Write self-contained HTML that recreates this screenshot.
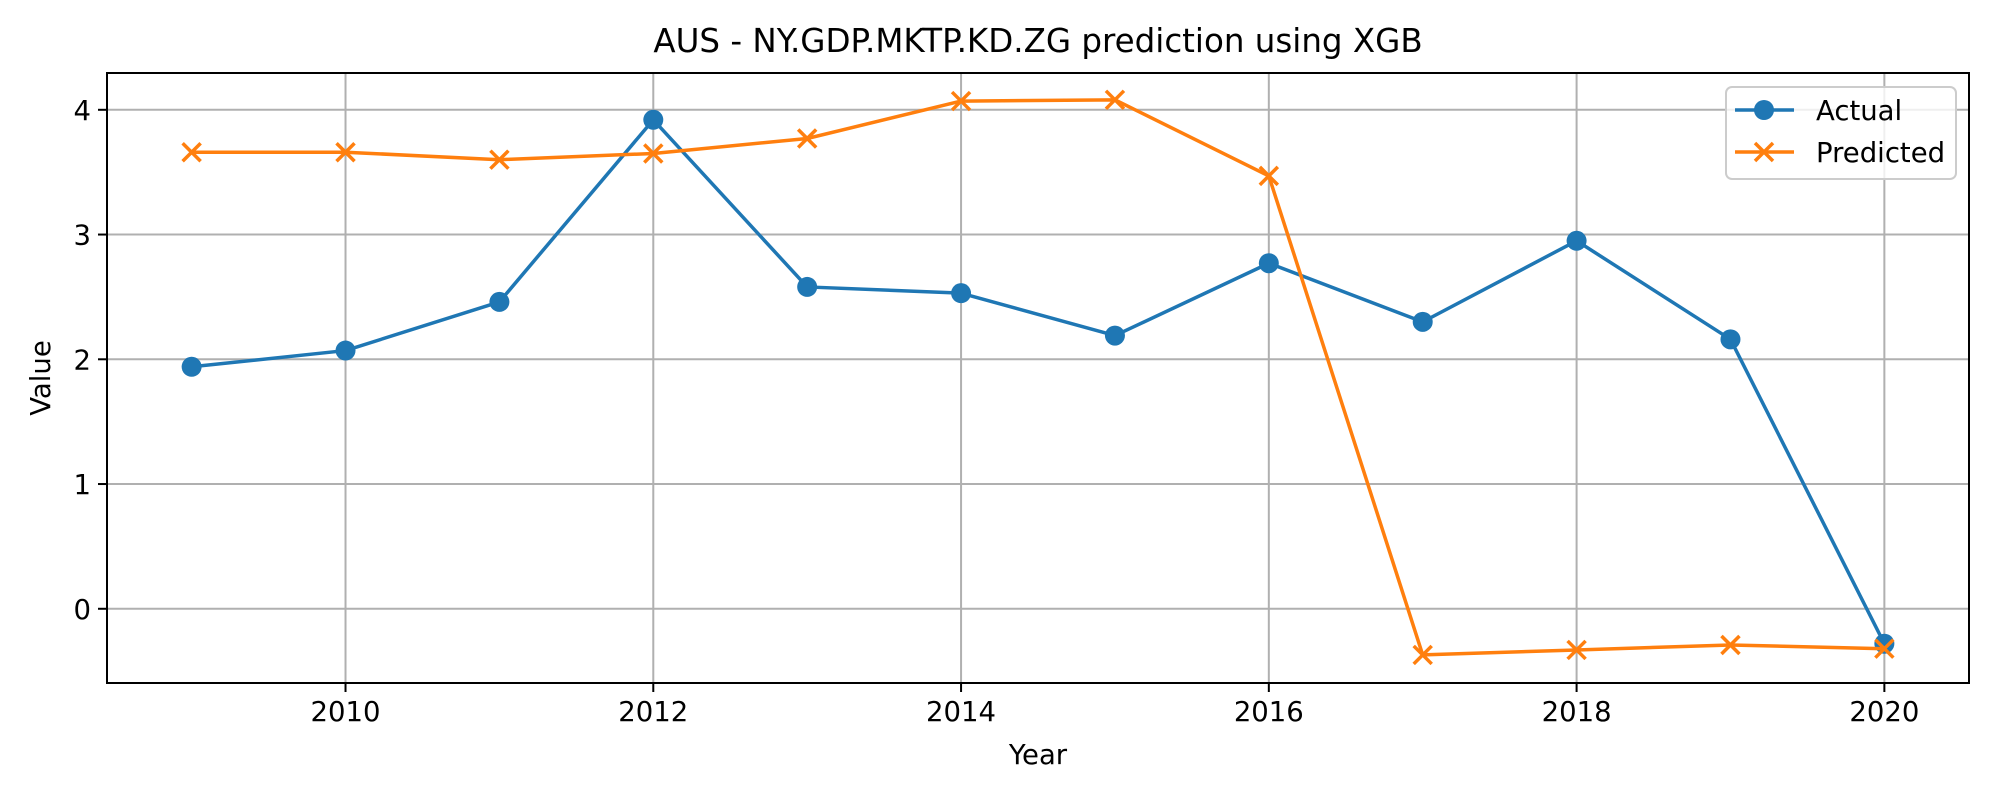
<!DOCTYPE html>
<html><head><meta charset="utf-8"><style>
html,body{margin:0;padding:0;background:#fff;}
svg{display:block;font-family:"DejaVu Sans","Liberation Sans",sans-serif;}
</style></head><body>
<svg id="chart" width="2000" height="800" viewBox="0 0 2000 800">
<rect width="2000" height="800" fill="#fff"/>
<text x="1038" y="52" font-size="32.5" text-anchor="middle">AUS - NY.GDP.MKTP.KD.ZG prediction using XGB</text>
<g id="grid"></g>
<g id="series"></g>
<rect x="107" y="73" width="1862" height="610" fill="none" stroke="#000" stroke-width="2"/>
<g id="ticks"></g>
<text x="1038" y="764" font-size="27.5" text-anchor="middle">Year</text>
<text transform="translate(50,378) rotate(-90)" font-size="27.5" text-anchor="middle">Value</text>
<g>
<rect x="1726" y="87" width="230" height="92" rx="6" fill="#fff" fill-opacity="0.8" stroke="#ccc" stroke-width="2"/>
<g>
<line x1="1735" y1="110" x2="1794" y2="110" stroke="#1f77b4" stroke-width="3.5"/>
<circle cx="1764" cy="110" r="10" fill="#1f77b4"/>
<text x="1816" y="120" font-size="27.5">Actual</text></g>
<g>
<line x1="1735" y1="152" x2="1794" y2="152" stroke="#ff7f0e" stroke-width="3.5"/>
<path d="M1755,143 l18,18 M1773,143 l-18,18" stroke="#ff7f0e" stroke-width="3.5"/>
<text x="1816" y="162" font-size="27.5">Predicted</text></g>
</g>
</svg>
<script>
const years=[2009,2010,2011,2012,2013,2014,2015,2016,2017,2018,2019,2020];
const actual=[1.94,2.07,2.46,3.92,2.58,2.53,2.19,2.77,2.30,2.95,2.16,-0.28];
const predicted=[3.66,3.66,3.60,3.65,3.77,4.07,4.08,3.47,-0.37,-0.33,-0.29,-0.32];
const xTicks=[2010,2012,2014,2016,2018,2020];
const yTicks=[0,1,2,3,4];
const L=107,R=1969,T=73,B=683;
const xMin=2008.45,xMax=2020.55,yMin=-0.595,yMax=4.295;
const NS='http://www.w3.org/2000/svg';
function X(v){return L+(v-xMin)/(xMax-xMin)*(R-L);}
function Y(v){return B-(v-yMin)/(yMax-yMin)*(B-T);}
function mk(tag,attrs,parent){const e=document.createElementNS(NS,tag);for(const k in attrs)e.setAttribute(k,attrs[k]);parent.appendChild(e);return e;}
const grid=document.getElementById('grid'),ticks=document.getElementById('ticks'),ser=document.getElementById('series');
xTicks.forEach(t=>{const x=X(t);
 const g=mk('line',{x1:x,x2:x,y1:T,y2:B,stroke:'#b0b0b0','stroke-width':2},grid);
 
 
 mk('line',{x1:x,x2:x,y1:B,y2:B+9,stroke:'#000','stroke-width':2},ticks);
 const tx=mk('text',{x:x,y:B+38,'font-size':27.5,'text-anchor':'middle'},ticks);tx.textContent=t;
 
 
});
yTicks.forEach(t=>{const y=Y(t);
 const g=mk('line',{x1:L,x2:R,y1:y,y2:y,stroke:'#b0b0b0','stroke-width':2},grid);
 
 
 mk('line',{x1:L-9,x2:L,y1:y,y2:y,stroke:'#000','stroke-width':2},ticks);
 const tx=mk('text',{x:L-16,y:y+10,'font-size':27.5,'text-anchor':'end'},ticks);tx.textContent=t;
 
 
});
function draw(vals,color,marker,name){
 const pts=vals.map((v,i)=>X(years[i])+','+Y(v)).join(' ');
 const pl=mk('polyline',{points:pts,fill:'none',stroke:color,'stroke-width':3.5,'stroke-linejoin':'round'},ser);
 
 
 vals.forEach((v,i)=>{const x=X(years[i]),y=Y(v);let m;
  if(marker==='o')m=mk('circle',{cx:x,cy:y,r:10,fill:color},ser);
  else m=mk('path',{d:`M${x-9},${y-9} L${x+9},${y+9} M${x+9},${y-9} L${x-9},${y+9}`,stroke:color,'stroke-width':3.5},ser);
  
  
 });
}
draw(actual,'#1f77b4','o','actual');
draw(predicted,'#ff7f0e','x','predicted');
</script>
</body></html>
